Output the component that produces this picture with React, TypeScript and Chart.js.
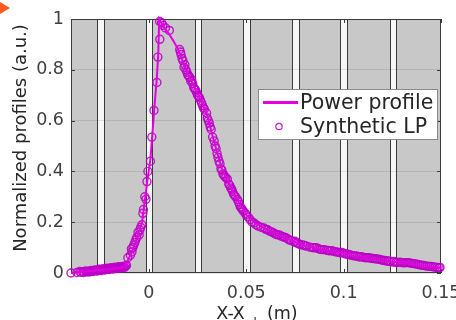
import { useEffect, useRef } from "react";
import { Chart, registerables } from "chart.js";

Chart.register(...registerables);

// ---- data ----
const powerX = [
  -0.04, -0.035, -0.03, -0.025, -0.02, -0.015, -0.012, -0.0105, -0.0085, -0.007,
  -0.005, -0.0035, -0.0025, -0.001, 0.0008, 0.0018, 0.0028, 0.004, 0.0048, 0.0053,
  0.0075, 0.01, 0.0125, 0.015, 0.0175, 0.02, 0.0225, 0.025, 0.0275, 0.03,
  0.0325, 0.035, 0.0375, 0.04, 0.0425, 0.045, 0.0475, 0.05, 0.0525, 0.055,
  0.06, 0.065, 0.07, 0.075, 0.08, 0.085, 0.09, 0.095, 0.1, 0.105,
  0.11, 0.115, 0.12, 0.125, 0.13, 0.135, 0.14, 0.145, 0.15,
];
const powerY = [
  0.0, 0.004, 0.008, 0.012, 0.016, 0.021, 0.026, 0.055, 0.085, 0.12,
  0.165, 0.2, 0.26, 0.35, 0.45, 0.55, 0.65, 0.76, 0.86, 1.0,
  0.97, 0.945, 0.915, 0.88, 0.83, 0.785, 0.745, 0.705, 0.665, 0.62,
  0.545, 0.475, 0.41, 0.37, 0.33, 0.295, 0.26, 0.23, 0.21, 0.195,
  0.175, 0.155, 0.138, 0.122, 0.108, 0.098, 0.091, 0.084, 0.078, 0.068,
  0.062, 0.057, 0.05, 0.044, 0.041, 0.037, 0.031, 0.025, 0.019,
];

const lpX = [
  -0.04, -0.037, -0.035, -0.034, -0.032, -0.031, -0.03, -0.029, -0.028, -0.027,
  -0.026, -0.025, -0.024, -0.023, -0.022, -0.021, -0.02, -0.019, -0.018, -0.017,
  -0.016, -0.015, -0.014, -0.013,
  -0.0355, -0.0335, -0.0325, -0.0305, -0.0295, -0.0285, -0.0275, -0.0265, -0.0255, -0.0245,
  -0.0235, -0.0225, -0.0215, -0.0205, -0.0195, -0.0185, -0.0175, -0.0165, -0.0155, -0.0145,
  -0.0135, -0.0125, -0.012, -0.0115,
  -0.0108, -0.0087, -0.0082, -0.0072, -0.0062, -0.0056, -0.0046, -0.0036, -0.0031, -0.0021,
  -0.001, 0.0008, 0.0015, 0.0026, 0.0041, 0.0046, 0.0056, 0.0055,
  -0.0095, -0.009, -0.0078, -0.0068, -0.005, -0.0042, -0.0028, -0.0015, -0.0005,
  0.0065, 0.0072, 0.0085, 0.0105,
  0.0158, 0.0165, 0.017, 0.018, 0.019, 0.02, 0.021, 0.022, 0.023, 0.024,
  0.025, 0.026, 0.027, 0.028, 0.0296, 0.031, 0.032, 0.0327, 0.034, 0.035,
  0.036, 0.037, 0.038, 0.039, 0.0403, 0.041, 0.042, 0.043, 0.044, 0.0454,
  0.046, 0.047, 0.048, 0.0495, 0.051, 0.052, 0.054, 0.055, 0.056, 0.059,
  0.0162, 0.0175, 0.0185, 0.0195, 0.0205, 0.0215, 0.0225, 0.0235, 0.0245, 0.0255,
  0.0265, 0.0275, 0.0285, 0.03, 0.0305, 0.0315, 0.0335, 0.0345, 0.0355, 0.0365,
  0.0375, 0.0385, 0.0395, 0.0415, 0.0425, 0.0435, 0.0445, 0.0465, 0.0475, 0.0485,
  0.05, 0.053,
  0.061, 0.062, 0.064, 0.066, 0.068, 0.07, 0.072, 0.0745, 0.076, 0.078,
  0.08, 0.0827, 0.085, 0.087, 0.089, 0.0913, 0.093, 0.095, 0.097, 0.1,
  0.102, 0.104, 0.106, 0.108, 0.11, 0.112, 0.114, 0.117, 0.119, 0.121,
  0.123, 0.1255, 0.128, 0.13, 0.132, 0.134, 0.136, 0.138, 0.14, 0.142,
  0.144, 0.146, 0.148, 0.149,
  0.0575, 0.06, 0.063, 0.065, 0.067, 0.069, 0.071, 0.073, 0.075, 0.077,
  0.079, 0.081, 0.084, 0.086, 0.088, 0.09, 0.092, 0.094, 0.096, 0.098,
  0.099, 0.101, 0.103, 0.105, 0.107, 0.109, 0.111, 0.113, 0.115, 0.116,
  0.118, 0.12, 0.122, 0.124, 0.126, 0.127, 0.129, 0.131, 0.133, 0.135,
  0.137, 0.139, 0.141, 0.143, 0.145, 0.147, 0.1495,
];
const lpY = [
  0.0, 0.002, 0.003, 0.005, 0.004, 0.007, 0.008, 0.006, 0.01, 0.009,
  0.011, 0.013, 0.012, 0.014, 0.015, 0.017, 0.016, 0.019, 0.018, 0.021,
  0.02, 0.023, 0.022, 0.024,
  0.006, 0.002, 0.008, 0.004, 0.01, 0.007, 0.012, 0.008, 0.015, 0.01,
  0.017, 0.012, 0.019, 0.014, 0.021, 0.016, 0.023, 0.018, 0.025, 0.02,
  0.026, 0.022, 0.028, 0.03,
  0.06, 0.083, 0.1, 0.12, 0.14, 0.16, 0.17, 0.19, 0.235, 0.3,
  0.36, 0.44, 0.535, 0.64, 0.75, 0.85, 0.92, 0.99,
  0.07, 0.095, 0.11, 0.13, 0.15, 0.18, 0.25, 0.29, 0.4,
  0.985, 0.975, 0.965, 0.955,
  0.88, 0.86, 0.845, 0.81, 0.8, 0.78, 0.77, 0.76, 0.73, 0.72,
  0.7, 0.69, 0.67, 0.65, 0.63, 0.59, 0.565, 0.535, 0.5, 0.47,
  0.44, 0.41, 0.39, 0.38, 0.37, 0.35, 0.335, 0.32, 0.305, 0.29,
  0.28, 0.26, 0.25, 0.235, 0.22, 0.21, 0.197, 0.19, 0.185, 0.177,
  0.87, 0.835, 0.82, 0.79, 0.775, 0.755, 0.745, 0.725, 0.71, 0.695,
  0.68, 0.66, 0.645, 0.61, 0.6, 0.575, 0.52, 0.49, 0.455, 0.43,
  0.405, 0.385, 0.375, 0.345, 0.33, 0.31, 0.3, 0.27, 0.255, 0.243,
  0.228, 0.2,
  0.17, 0.165, 0.158, 0.15, 0.145, 0.14, 0.13, 0.122, 0.118, 0.112,
  0.108, 0.102, 0.099, 0.096, 0.092, 0.09, 0.087, 0.085, 0.082, 0.078,
  0.074, 0.07, 0.067, 0.063, 0.062, 0.06, 0.058, 0.055, 0.052, 0.049,
  0.046, 0.043, 0.042, 0.041, 0.041, 0.04, 0.037, 0.034, 0.031, 0.028,
  0.026, 0.024, 0.022, 0.02,
  0.18, 0.172, 0.162, 0.153, 0.15, 0.142, 0.136, 0.128, 0.125, 0.114,
  0.11, 0.106, 0.1, 0.1, 0.093, 0.092, 0.088, 0.088, 0.083, 0.08,
  0.081, 0.075, 0.072, 0.068, 0.066, 0.064, 0.06, 0.06, 0.057, 0.056,
  0.054, 0.05, 0.048, 0.046, 0.045, 0.042, 0.043, 0.04, 0.041, 0.038,
  0.036, 0.032, 0.03, 0.027, 0.026, 0.023, 0.022,
];

// background stripe centres (x in metres)
const stripeX = [-0.0247, 0.0003, 0.0255, 0.0503, 0.0755, 0.1003, 0.1255];
const xTicks = [0, 0.05, 0.1, 0.15];
const yTicks = [0, 0.2, 0.4, 0.6, 0.8, 1];

const seriesLabels = ["Power profile", "Synthetic LP"];
const yTitle = "Normalized profiles (a.u.)";
const xTitleMain = "X-X";
const xTitleSub = "pk";
const xTitleUnit = " (m)";

const FONT = "'DejaVu Sans', 'Liberation Sans', sans-serif";
const LINE_COLOR = "rgb(228,0,228)";
const CIRCLE_COLOR = "rgba(190,0,200,0.9)";

const decorPlugin = {
  id: "decor",
  beforeDraw(chart: any) {
    const { ctx, chartArea: a, scales } = chart;
    const x = scales.x;
    ctx.save();
    ctx.fillStyle = "#c8c8c8";
    ctx.fillRect(a.left, a.top, a.right - a.left, a.bottom - a.top);
    const halfW = 3.75;
    stripeX.forEach((v) => {
      const c = x.getPixelForValue(v);
      const l = Math.round(c - halfW);
      const r = Math.round(c + halfW);
      ctx.fillStyle = "#f7f7f7";
      ctx.fillRect(l, a.top, r - l, a.bottom - a.top);
      ctx.strokeStyle = "#3a3a3a";
      ctx.lineWidth = 1;
      ctx.beginPath();
      ctx.moveTo(l + 0.5, a.top);
      ctx.lineTo(l + 0.5, a.bottom);
      ctx.moveTo(r - 0.5, a.top);
      ctx.lineTo(r - 0.5, a.bottom);
      ctx.stroke();
    });
    ctx.restore();
  },
  beforeDatasetsDraw(chart: any) {
    const { ctx, chartArea: a, scales } = chart;
    ctx.save();
    ctx.strokeStyle = "#3a3a3a";
    ctx.lineWidth = 1;
    ctx.strokeRect(a.left + 0.5, a.top + 0.5, a.right - a.left - 1, a.bottom - a.top - 1);
    ctx.beginPath();
    const tl = 4;
    yTicks.forEach((v) => {
      const py = Math.round(scales.y.getPixelForValue(v)) + 0.5;
      ctx.moveTo(a.left, py);
      ctx.lineTo(a.left + tl, py);
      ctx.moveTo(a.right, py);
      ctx.lineTo(a.right - tl, py);
    });
    xTicks.forEach((v) => {
      const px = Math.round(scales.x.getPixelForValue(v)) + 0.5;
      ctx.moveTo(px, a.bottom);
      ctx.lineTo(px, a.bottom - tl);
      ctx.moveTo(px, a.top);
      ctx.lineTo(px, a.top + tl);
    });
    ctx.stroke();
    ctx.restore();
  },
  afterDraw(chart: any) {
    const { ctx, chartArea: a } = chart;
    ctx.save();
    // legend box
    const bw = 180;
    const bh = 51;
    const bx = a.right - 3 - bw;
    const by = a.top + 70;
    ctx.fillStyle = "#ffffff";
    ctx.fillRect(bx, by, bw, bh);
    ctx.strokeStyle = "#8a8a8a";
    ctx.lineWidth = 1;
    ctx.strokeRect(bx + 0.5, by + 0.5, bw - 1, bh - 1);
    const ds = chart.data.datasets;
    const r1 = by + 13.5;
    const r2 = by + 37.5;
    ctx.strokeStyle = ds[0].borderColor;
    ctx.lineWidth = 3;
    ctx.beginPath();
    ctx.moveTo(bx + 5, r1);
    ctx.lineTo(bx + 40, r1);
    ctx.stroke();
    ctx.strokeStyle = ds[1].pointBorderColor;
    ctx.lineWidth = 1.2;
    ctx.beginPath();
    ctx.arc(bx + 21, r2, 3.2, 0, Math.PI * 2);
    ctx.stroke();
    ctx.fillStyle = "#262626";
    ctx.font = `20.5px ${FONT}`;
    ctx.textBaseline = "middle";
    ctx.textAlign = "left";
    ctx.fillText(ds[0].label, bx + 42, r1 + 1);
    ctx.fillText(ds[1].label, bx + 42, r2 + 1);

    // y-axis title
    ctx.save();
    ctx.font = `18px ${FONT}`;
    ctx.textAlign = "center";
    ctx.textBaseline = "middle";
    ctx.translate(21, (a.top + a.bottom) / 2 - 8);
    ctx.rotate(-Math.PI / 2);
    ctx.fillText(yTitle, 0, 0);
    ctx.restore();

    // x-axis title with subscript
    const mainFont = `17.5px ${FONT}`;
    const subFont = `12px ${FONT}`;
    ctx.textAlign = "left";
    ctx.textBaseline = "alphabetic";
    ctx.font = mainFont;
    const w1 = ctx.measureText(xTitleMain).width;
    const w3 = ctx.measureText(xTitleUnit).width;
    ctx.font = subFont;
    const w2 = ctx.measureText(xTitleSub).width;
    const total = w1 + w2 + w3;
    const cx = (a.left + a.right) / 2;
    let sx = cx - total / 2;
    const base = a.bottom + 45.5;
    ctx.font = mainFont;
    ctx.fillText(xTitleMain, sx, base);
    sx += w1;
    ctx.font = subFont;
    ctx.fillText(xTitleSub, sx + 1, base + 8);
    sx += w2;
    ctx.font = mainFont;
    ctx.fillText(xTitleUnit, sx + 2, base);
    ctx.restore();
  },
};

export default function App() {
  const ref = useRef<HTMLCanvasElement | null>(null);

  useEffect(() => {
    if (!ref.current) return;
    const linePts = powerX.map((v, i) => ({ x: v, y: powerY[i] }));
    const lpPts = lpX.map((v, i) => ({ x: v, y: lpY[i] }));
    const chart = new Chart(ref.current, {
      type: "scatter",
      data: {
        datasets: [
          {
            type: "line",
            label: seriesLabels[0],
            data: linePts,
            borderColor: LINE_COLOR,
            borderWidth: 2,
            pointRadius: 0,
            tension: 0,
            fill: false,
            clip: false,
          } as any,
          {
            type: "scatter",
            label: seriesLabels[1],
            data: lpPts,
            pointRadius: 4,
            pointBorderWidth: 1.4,
            pointBorderColor: CIRCLE_COLOR,
            pointBackgroundColor: "rgba(0,0,0,0)",
            clip: false,
          } as any,
        ],
      },
      options: {
        animation: false,
        responsive: false,
        layout: { padding: { top: 19, right: 15, left: 0, bottom: 0 } },
        plugins: {
          legend: { display: false },
          tooltip: { enabled: false },
        },
        scales: {
          x: {
            type: "linear",
            min: -0.04,
            max: 0.15,
            afterFit: (s: any) => {
              s.height = 47;
              s.paddingLeft = 0;
              s.paddingRight = 0;
            },
            afterBuildTicks: (s: any) => {
              s.ticks = xTicks.map((v) => ({ value: v }));
            },
            ticks: {
              autoSkip: false,
              maxRotation: 0,
              padding: 10,
              color: "#404040",
              font: { family: FONT, size: 17.5 },
              callback: (v: any) => String(parseFloat(Number(v).toFixed(3))),
            },
            grid: { display: false, drawTicks: false },
            border: { display: false },
          },
          y: {
            type: "linear",
            min: 0,
            max: 1,
            afterFit: (s: any) => {
              s.width = 71;
              s.paddingTop = 0;
              s.paddingBottom = 0;
            },
            afterBuildTicks: (s: any) => {
              s.ticks = yTicks.map((v) => ({ value: v }));
            },
            ticks: {
              padding: 7,
              color: "#404040",
              font: { family: FONT, size: 17.5 },
              callback: (v: any) => String(parseFloat(Number(v).toFixed(2))),
            },
            grid: {
              color: "rgba(38,38,38,0.12)",
              drawTicks: false,
            },
            border: { display: false },
          },
        },
      },
      plugins: [decorPlugin],
    });
    return () => chart.destroy();
  }, []);

  return (
    <div
      style={{
        position: "fixed",
        left: 0,
        top: 0,
        width: 456,
        height: 320,
        background: "#ffffff",
        overflow: "hidden",
      }}
    >
      <canvas ref={ref} width={456} height={320} style={{ display: "block" }} />
      <div
        style={{
          position: "absolute",
          left: 0,
          top: 2,
          width: 0,
          height: 0,
          borderLeft: "10px solid #ff5a1f",
          borderTop: "6px solid transparent",
          borderBottom: "6px solid transparent",
        }}
      />
    </div>
  );
}
